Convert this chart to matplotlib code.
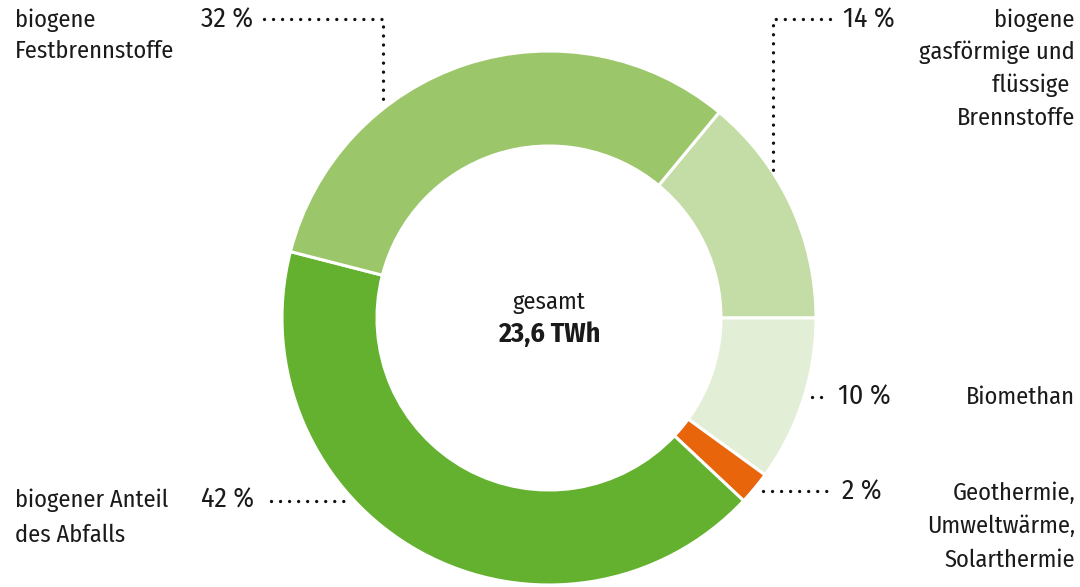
import matplotlib
matplotlib.use("Agg")
import matplotlib.pyplot as plt
from matplotlib import font_manager as fm

# ---- data ----
categories = ["biogene gasförmige und flüssige Brennstoffe", "Biomethan",
              "Geothermie, Umweltwärme, Solarthermie",
              "biogener Anteil des Abfalls", "biogene Festbrennstoffe"]
shares = [14, 10, 2, 42, 32]
pct_labels = ["14 %", "10 %", "2 %", "42 %", "32 %"]
colors = ["#c4dca6", "#e3eed6", "#e8650c", "#63b12f", "#9cc66a"]
total_label = "23,6 TWh"

names = {f.name for f in fm.fontManager.ttflist}
fam = "Open Sans"
for cand in ["Fira Sans Condensed", "Roboto Condensed", "IBM Plex Sans Condensed",
             "Open Sans Condensed", "Open Sans"]:
    if cand in names:
        fam = cand
        break
plt.rcParams['font.family'] = [fam, 'DejaVu Sans']

W, H = 1080, 587
fig = plt.figure(figsize=(W / 100, H / 100), dpi=100)
ax = fig.add_axes([0, 0, 1, 1])

def Y(y):
    return H - y

cx, cy, R, ring = 549, 318, 267, 95
ax.pie(shares, colors=colors, startangle=50.4, counterclock=False,
       center=(cx, Y(cy)), radius=R, frame=True,
       wedgeprops=dict(width=ring, edgecolor='white', linewidth=2.2))
ax.set_xlim(0, W)
ax.set_ylim(0, H)
ax.set_aspect('equal')
ax.axis('off')

txt = '#1a1a1a'
lab_fs = 17.5
pct_fs = 20
pct_w = 'normal'

dot = dict(color='#111111', linestyle=(0, (0.01, 2.7)), linewidth=2.4,
           dash_capstyle='round', solid_capstyle='round')

# 32 %
ax.text(253, Y(20), pct_labels[4], ha='right', va='center', fontsize=pct_fs, color=txt, fontweight=pct_w)
ax.text(15, Y(20), "biogene", ha='left', va='center', fontsize=lab_fs, color=txt)
ax.text(15, Y(51), "Festbrennstoffe", ha='left', va='center', fontsize=lab_fs, color=txt)
ax.plot([264, 383, 383], [Y(19), Y(19), Y(106)], **dot)

# 14 %
ax.text(843, Y(20), pct_labels[0], ha='left', va='center', fontsize=pct_fs, color=txt, fontweight=pct_w)
for i, line in enumerate(["biogene", "gasförmige und", "flüssige ", "Brennstoffe"]):
    ax.text(1075, Y(20 + 32.7 * i), line, ha='right', va='center', fontsize=lab_fs, color=txt)
ax.plot([830, 773, 773], [Y(19), Y(19), Y(170)], **dot)

# 10 %
ax.text(838, Y(397), pct_labels[1], ha='left', va='center', fontsize=pct_fs, color=txt, fontweight=pct_w)
ax.text(1075, Y(397), "Biomethan", ha='right', va='center', fontsize=lab_fs, color=txt)
ax.plot([812, 830], [Y(397), Y(397)], **dot)

# 2 %
ax.text(842, Y(492), pct_labels[2], ha='left', va='center', fontsize=pct_fs, color=txt, fontweight=pct_w)
for i, line in enumerate(["Geothermie,", "Umweltwärme,", "Solarthermie"]):
    ax.text(1075, Y(493 + 33.5 * i), line, ha='right', va='center', fontsize=lab_fs, color=txt)
ax.plot([763, 830], [Y(491), Y(491)], **dot)

# 42 %
ax.text(254, Y(500), pct_labels[3], ha='right', va='center', fontsize=pct_fs, color=txt, fontweight=pct_w)
ax.text(15, Y(500), "biogener Anteil", ha='left', va='center', fontsize=lab_fs, color=txt)
ax.text(15, Y(535), "des Abfalls", ha='left', va='center', fontsize=lab_fs, color=txt)
ax.plot([271, 345], [Y(501), Y(501)], **dot)

# centre
ax.text(cx, Y(302), "gesamt", ha='center', va='center', fontsize=lab_fs, color=txt)
ax.text(cx, Y(334), total_label, ha='center', va='center', fontsize=pct_fs, color=txt, fontweight='bold')

fig.savefig("out.png", dpi=100, facecolor='white')
